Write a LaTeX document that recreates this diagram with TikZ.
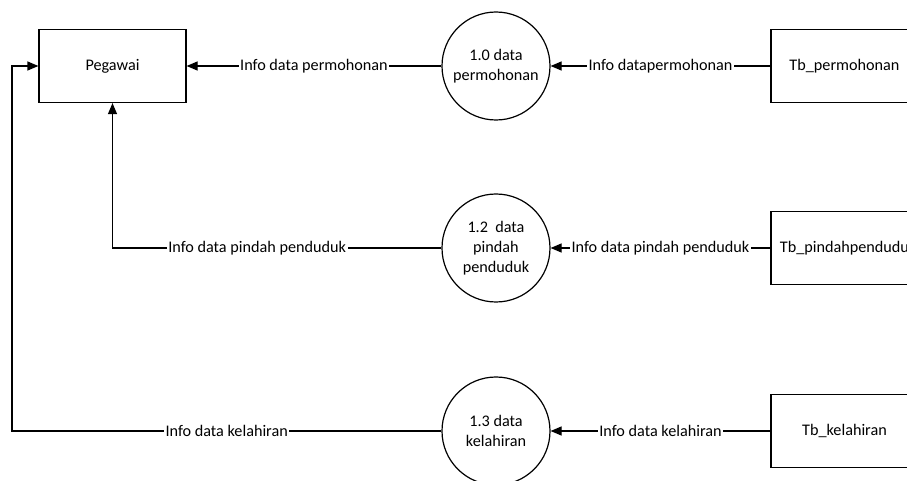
\documentclass[tikz,border=0pt]{standalone}
\usepackage{fontspec}
\setmainfont{Carlito}
\usetikzlibrary{positioning,arrows.meta}

\begin{document}
\begin{tikzpicture}[
    x=0.5pt, y=-0.5pt,
    line width=0.6pt,
    every node/.style={font=\fontsize{8.1}{9.9}\selectfont},
    entity/.style={draw, minimum width=73.5pt, minimum height=36.5pt},
    proc/.style={draw, circle, minimum size=54pt, inner sep=0pt, align=center},
    flow/.style={-{Triangle[length=5.5pt,width=4.5pt]}},
    lbl/.style={fill=white, inner sep=0.8pt}
  ]
  \useasboundingbox (0,0) rectangle (907,481);
  \node[entity] (pegawai) at (112.5,66) {Pegawai};
  \node[proc] (p10) at (496,66) {1.0 data\\permohonan};
  \node[proc] (p12) at (496,248) {1.2\ \ data\\pindah\\penduduk};
  \node[proc] (p13) at (496,431) {1.3 data\\kelahiran};
  \node[entity] (tbperm) at (844.5,66) {Tb\_permohonan};
  \node[entity] (tbpindah) at (844.5,248) {Tb\_pindahpendudu};
  \node[entity] (tbkel) at (844.5,431) {Tb\_kelahiran};
  \coordinate (lx) at (12,431);

  \draw[flow] (p10.west) -- node[lbl]{Info data permohonan} (pegawai.east);
  \draw[flow] (tbperm.west) -- node[lbl]{Info datapermohonan} (p10.east);
  \draw[flow] (p12.west) -| node[lbl, pos=0.28]{Info data pindah penduduk} (pegawai.south);
  \draw[flow] (tbpindah.west) -- node[lbl]{Info data pindah penduduk} (p12.east);
  \draw[flow] (p13.west) -- node[lbl]{Info data kelahiran} (lx) |- (pegawai.west);
  \draw[flow] (tbkel.west) -- node[lbl]{Info data kelahiran} (p13.east);
\end{tikzpicture}
\end{document}
